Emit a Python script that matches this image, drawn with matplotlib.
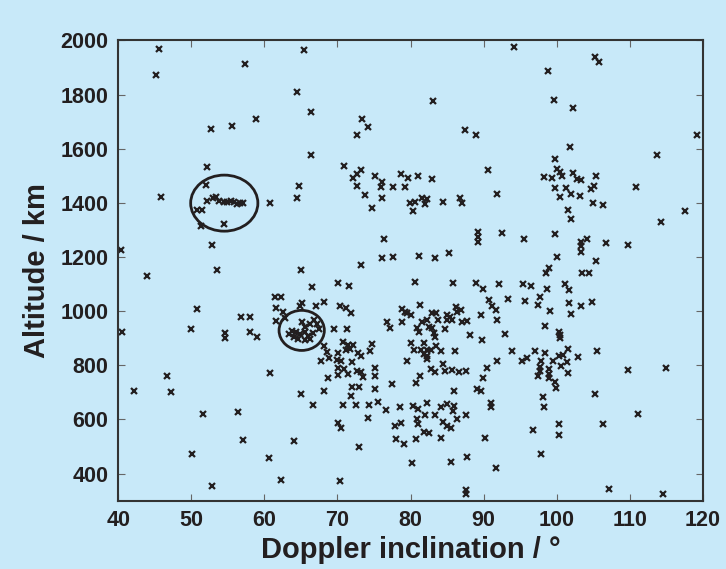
import numpy as np
import matplotlib.pyplot as plt
from matplotlib.patches import Ellipse

plt.rcParams['font.family'] = ['Liberation Sans', 'DejaVu Sans']

# Doppler inclination (deg), altitude (km)
incl_top = [45.5, 57.4, 45.2, 58.8, 52.7, 55.6, 52.1, 52.0,
            65.4, 64.5, 66.4, 73.3, 74.2, 72.7, 66.4, 70.9, 73.2, 72.7, 72.1, 75.1, 76.1, 78.7, 72.7, 75.9, 77.6, 79.3, 64.7,
            94.1, 98.8, 83.1, 87.4, 89.0, 90.6, 98.2, 79.7, 81.0, 82.9,
            105.2, 105.8, 99.6, 102.2, 119.2, 101.8, 113.7, 99.8, 100.1, 100.4, 99.4, 100.7, 102.2, 102.8, 103.3, 105.4,
            105.1, 104.7, 110.9, 99.8, 101.3]
alt_top = [1970, 1914, 1873, 1711, 1672, 1684, 1532, 1466,
           1964, 1808, 1734, 1708, 1682, 1649, 1577, 1537, 1522, 1507, 1490, 1498, 1478, 1507, 1462, 1457, 1459, 1457, 1462,
           1976, 1886, 1778, 1670, 1650, 1521, 1494, 1490, 1499, 1487,
           1938, 1922, 1780, 1749, 1650, 1605, 1578, 1563, 1525, 1515, 1493, 1500, 1511, 1488, 1485, 1499,
           1463, 1450, 1457, 1454, 1454]

incl_mid = [45.8, 40.3, 52.2, 53.0, 53.4, 53.8, 54.4, 54.9, 55.4, 55.8, 56.3, 56.7, 57.0, 50.8, 51.5, 51.3, 54.5,
            52.8, 53.5, 43.9, 50.7, 56.8, 58.0, 40.5, 49.9, 54.6, 54.6, 58.0, 59.0,
            64.4, 60.7, 73.8, 76.1, 74.7, 76.4, 76.1, 77.6, 73.2, 65.0, 66.5, 70.1, 71.6, 61.5, 62.2, 65.1, 64.9,
            67.1, 68.1, 61.6, 62.6, 70.4, 71.2, 71.8, 61.6, 62.8,
            65.1, 66.8, 66.3, 65.6, 67.2, 67.4, 63.8, 64.3, 64.9, 63.3, 65.5, 66.0, 66.7, 64.0, 64.6, 65.6, 66.3,
            69.5, 71.3, 78.8, 79.3, 79.5, 76.8, 78.8, 77.2,
            91.8, 79.9, 80.6, 81.5, 82.2, 82.0, 80.4, 84.5, 86.8, 87.0, 89.3, 89.3, 89.3, 92.5, 95.5, 81.2, 83.4,
            85.2, 80.6, 85.8, 89.0, 89.9, 92.1, 95.4, 96.5, 98.7, 97.7, 99.0, 98.5, 90.7, 91.1, 91.7, 93.4, 95.6,
            97.4, 99.1, 81.3,
            80.1, 80.9, 81.1, 81.6, 82.2, 82.5, 82.9, 82.9, 83.5, 83.7, 83.2, 83.4, 85.0, 85.4, 85.7, 85.0, 86.2,
            86.4, 86.9, 87.0, 87.7, 84.7, 89.7, 91.9, 88.1, 92.9, 98.4,
            100.4, 102.0, 103.2, 105.0, 106.4, 101.6, 102.0, 117.6, 114.3, 99.8, 103.3, 103.3, 103.4, 104.2, 106.7,
            109.8, 100.0, 105.4, 103.5, 104.4, 101.1, 101.7, 101.7, 103.3, 104.9, 102.0, 100.3, 100.5, 100.4]
alt_mid = [1421, 1226, 1408, 1417, 1420, 1408, 1404, 1404, 1407, 1402, 1396, 1398, 1398, 1373, 1373, 1316, 1321,
           1244, 1152, 1131, 1007, 977, 977, 924, 934, 918, 900, 924, 906,
           1419, 1398, 1430, 1417, 1381, 1268, 1195, 1199, 1170, 1152, 1089, 1103, 1093, 1051, 1051, 1029, 1019,
           1019, 1033, 1013, 998, 1019, 1010, 992, 964, 976,
           961, 967, 951, 943, 951, 934, 928, 922, 915, 916, 924, 910, 918, 903, 897, 893, 897,
           934, 934, 1008, 998, 992, 961, 961, 937,
           1433, 1398, 1404, 1417, 1414, 1396, 1371, 1402, 1419, 1398, 1293, 1275, 1254, 1287, 1265, 1205, 1197,
           1214, 1107, 1103, 1103, 1083, 1101, 1100, 1094, 1081, 1053, 1160, 1140, 1041, 1020, 1004, 1044, 1037,
           1023, 1001, 1023,
           986, 939, 924, 961, 967, 943, 937, 992, 992, 967, 918, 906, 986, 980, 967, 967, 1017,
           998, 1004, 959, 964, 934, 986, 967, 912, 916, 945,
           1423, 1431, 1425, 1400, 1391, 1373, 1339, 1371, 1330, 1284, 1254, 1241, 1220, 1266, 1250,
           1244, 1201, 1185, 1140, 1140, 1100, 1077, 1029, 1020, 1034, 988, 924, 912, 902]

incl_low = [46.6, 42.1, 47.2, 51.6, 56.4, 57.1, 50.1, 52.8,
            68.2, 70.7, 71.4, 72.1, 71.1, 71.7, 70.1, 68.5, 68.9, 67.8, 69.9, 70.5, 72.0, 72.8, 73.2, 74.7, 74.4,
            70.1, 70.9, 70.1, 71.4, 72.7, 73.2, 73.5, 75.1, 75.1, 60.8, 68.7, 72.0, 72.9, 71.8, 68.2, 65.0, 75.1,
            77.5, 66.7, 70.7, 72.6, 74.3, 75.5, 76.7, 78.6, 74.2, 70.1, 70.5, 77.9, 78.7, 78.0, 79.1, 64.1, 73.0,
            60.6, 62.2, 70.4,
            89.8, 80.0, 81.9, 83.5, 80.5, 81.4, 82.2, 82.8, 84.1, 81.9, 82.3, 82.2, 79.5, 86.1, 84.4, 82.8, 83.3,
            84.7, 85.7, 86.6, 87.6, 81.3, 80.7, 90.5, 91.8, 93.9, 89.9, 86.0, 89.1, 89.7, 97.1, 98.4, 95.3, 95.9,
            97.8, 97.7, 97.7, 97.5, 98.9, 99.0, 99.0, 98.1, 98.3, 91.0, 91.0, 80.3, 81.0, 82.2, 84.1, 85.0, 85.9,
            85.8, 83.4, 82.0, 80.9, 81.0, 84.5, 85.0, 85.5, 86.3, 87.6, 81.8, 82.5, 80.8, 84.2, 90.2, 87.7, 80.2,
            85.6, 91.7, 87.6, 87.6, 96.7, 97.9,
            101.6, 105.5, 102.9, 100.3, 100.8, 101.4, 99.5, 100.6, 101.6, 99.8, 99.9, 109.8, 115.0, 105.2, 111.2,
            100.3, 100.3, 106.4, 107.2, 114.5]
alt_low = [761, 706, 703, 619, 627, 523, 474, 354,
           872, 885, 875, 875, 857, 860, 844, 848, 826, 816, 820, 816, 811, 844, 834, 878, 854,
           789, 786, 764, 768, 779, 774, 758, 789, 761, 771, 754, 719, 719, 687, 706, 694, 713,
           731, 652, 652, 652, 653, 665, 635, 647, 607, 588, 570, 577, 586, 528, 511, 521, 497,
           457, 377, 373,
           893, 881, 881, 872, 857, 857, 857, 857, 854, 841, 836, 822, 817, 854, 804, 786, 776,
           779, 783, 776, 779, 761, 734, 789, 817, 853, 752, 706, 713, 706, 853, 847, 817, 826,
           817, 795, 779, 762, 786, 767, 754, 682, 646, 660, 647, 651, 639, 662, 645, 656, 650,
           631, 617, 617, 601, 582, 592, 577, 568, 602, 617, 555, 549, 527, 531, 531, 463, 440,
           442, 422, 340, 324, 561, 471,
           860, 853, 830, 836, 838, 813, 816, 799, 771, 740, 717, 783, 791, 694, 620,
           583, 543, 583, 344, 324]

# circled groups: (centre incl, centre alt, width, height)
rings = [(54.5, 1399, 9.2, 207), (65.1, 929, 6.2, 148)]

bg = '#c8e9f9'
ink = '#231f20'

fig = plt.figure(figsize=(7.26, 5.69), dpi=100, facecolor=bg)
ax = fig.add_axes([0.163, 0.120, 0.805, 0.809], facecolor=bg)

x = incl_top + incl_mid + incl_low
y = alt_top + alt_mid + alt_low
ax.plot(x, y, 'x', color=ink, ms=4.5, mew=1.6, clip_on=False)

for cx, cy, w, h in rings:
    ax.add_patch(Ellipse((cx, cy), w, h, fill=False, ec=ink, lw=2))

ax.set_xlim(40, 120)
ax.set_ylim(300, 2000)
ax.set_xticks(np.arange(40, 121, 10))
ax.set_yticks(np.arange(400, 2001, 200))
ax.tick_params(direction='in', length=5, width=0.8, color='#666666',
               top=True, right=True, labelsize=15.5, labelcolor=ink, pad=7)
for lab in ax.get_xticklabels() + ax.get_yticklabels():
    lab.set_fontweight('bold')
for s in ax.spines.values():
    s.set_color('#333333')
    s.set_linewidth(1.5)

ax.set_xlabel('Doppler inclination / °', fontsize=21, fontweight='bold', color=ink, labelpad=3)
ax.set_ylabel('Altitude / km', fontsize=21, fontweight='bold', color=ink, labelpad=7)

fig.savefig('out.png', dpi=100, facecolor=bg)
